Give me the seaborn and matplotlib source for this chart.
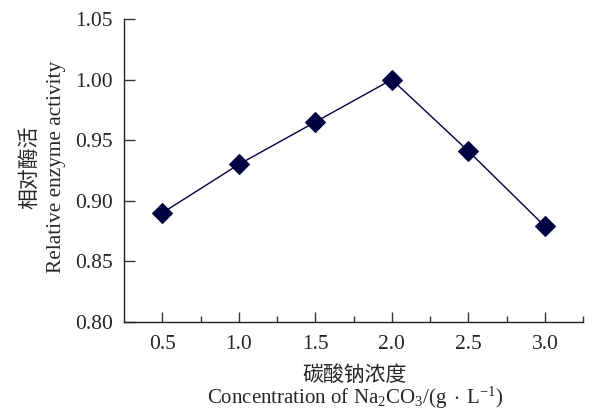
import matplotlib
matplotlib.use("Agg")
import matplotlib.pyplot as plt
import seaborn as sns
import pandas as pd

# Na2CO3 concentration (g/L) and relative enzyme activity
concentration = [0.5, 1.0, 1.5, 2.0, 2.5, 3.0]
activity = [0.890, 0.930, 0.965, 1.000, 0.941, 0.879]
y_ticks = [0.80, 0.85, 0.90, 0.95, 1.00, 1.05]

sns.set_style("ticks")
plt.rcParams["font.family"] = ["Liberation Serif", "Noto Sans CJK SC"]
plt.rcParams["mathtext.fontset"] = "custom"
plt.rcParams["mathtext.rm"] = "Liberation Serif"
plt.rcParams["mathtext.default"] = "regular"

df = pd.DataFrame({"conc": concentration, "act": activity})

W, H = 592, 412
fig = plt.figure(figsize=(W / 100, H / 100), dpi=100)
ax = fig.add_axes([0.2095, 0.2184, 0.7755, 0.7356])

navy = "#000040"
sns.lineplot(data=df, x="conc", y="act", ax=ax, color=navy, linewidth=1.0,
             marker="D", markersize=10, markeredgecolor=navy,
             markerfacecolor=navy)

ax.set_xlim(0.25, 3.25)
ax.set_ylim(0.80, 1.05)
ax.set_xticks(concentration)
ax.set_xticklabels([f"{v:.1f}" for v in concentration])
ax.set_xticks([0.75, 1.25, 1.75, 2.25, 2.75, 3.25], minor=True)
ax.set_yticks(y_ticks)
ax.set_yticklabels([f"{v:.2f}" for v in y_ticks])

ax.tick_params(axis="x", which="major", direction="in", length=7, width=1,
               labelsize=15.5, pad=9, color="#333333")
ax.tick_params(axis="x", which="minor", direction="in", length=4, width=1,
               color="#333333")
ax.tick_params(axis="y", which="major", direction="in", length=8, width=1,
               labelsize=15.5, pad=8, color="#333333")

for side in ["top", "right"]:
    ax.spines[side].set_visible(False)
for side in ["left", "bottom"]:
    ax.spines[side].set_linewidth(1.0)
    ax.spines[side].set_color("#222222")
ax.set_xlabel("")
ax.set_ylabel("")


def px(x, y):
    return x / W, 1 - y / H


# axis titles: Chinese line plus English line
fig.text(*px(30, 167), "相对酶活", rotation=90, ha="center", va="center",
         fontsize=15)
fig.text(*px(56, 167), "Relative enzyme activity", rotation=90,
         ha="center", va="center", fontsize=15.3)
fig.text(*px(355, 376), "碳酸钠浓度", ha="center", va="center", fontsize=15)
fig.text(*px(355, 398),
         "Concentration of Na$_2$CO$_3$/(g$\\,\\cdot\\,$L$^{-1}$)",
         ha="center", va="center", fontsize=15)

fig.savefig("out.png", dpi=100)
